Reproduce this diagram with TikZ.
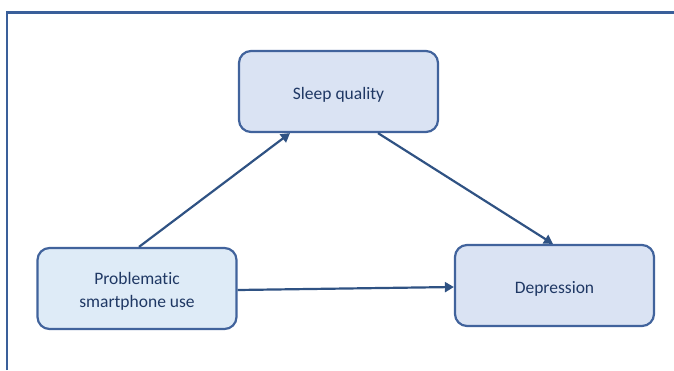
\documentclass[tikz,border=0pt]{standalone}
\usepackage{fontspec}
\setmainfont{Carlito}[Ligatures=NoCommon]
\usetikzlibrary{arrows.meta}
\definecolor{frameblue}{HTML}{3A5F9A}
\definecolor{boxline}{HTML}{41639C}
\definecolor{boxfill}{HTML}{DAE3F3}
\definecolor{boxfillb}{HTML}{DEEBF7}
\definecolor{txt}{HTML}{1F3864}
\definecolor{arr}{HTML}{2F5283}
\newcommand\boxtext[1]{\raisebox{-3pt}[\height][\depth]{\renewcommand\arraystretch{1.1}\begin{tabular}{@{}c@{}}#1\end{tabular}}}
\tikzset{
  box/.style={draw=boxline, line width=2.2pt, rounded corners=12pt, fill=boxfill,
    minimum width=199pt, minimum height=81pt, inner sep=0pt, align=center,
    text=txt, font=\fontsize{17.5}{21}\selectfont},
  link/.style={draw=arr, line width=2.2pt, -{Triangle[length=9pt,width=10pt]}}
}
\begin{document}
\begin{tikzpicture}[x=1pt,y=-1pt]
\useasboundingbox (0,0) rectangle (674,370);
\draw[frameblue, line width=2.4pt] (7,370) -- (7,12.5) -- (674,12.5);
\node[box] (sleep) at (338.5,91.5) {\boxtext{Sleep quality}};
\node[box, fill=boxfillb] (psu) at (137,288.5) {\boxtext{Problematic\\smartphone use}};
\node[box] (dep) at (554.5,285.5) {\boxtext{Depression}};
\draw[link] ([xshift=2pt]psu.north) -- ([xshift=-48.5pt]sleep.south);
\draw[link] ([xshift=39.5pt]sleep.south) -- ([xshift=-1.5pt]dep.north);
\draw[link] ([yshift=-1.5pt]psu.east) -- ([yshift=-1.5pt]dep.west);
\end{tikzpicture}
\end{document}
